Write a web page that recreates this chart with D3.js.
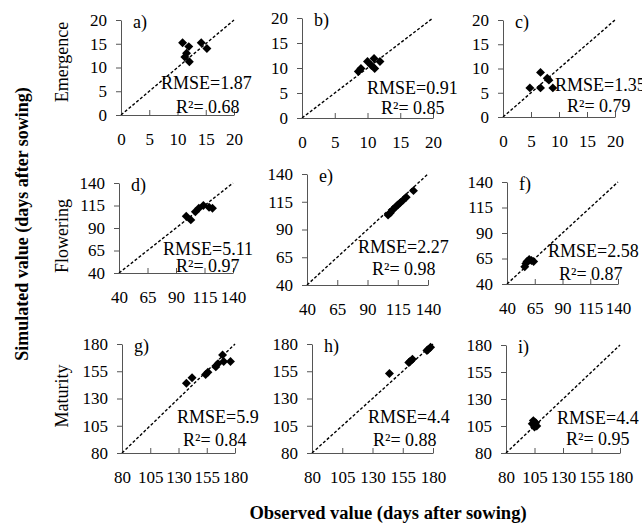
<!DOCTYPE html>
<html>
<head>
<meta charset="utf-8">
<script src="https://cdn.jsdelivr.net/npm/d3@7"></script>
<style>
  body { margin: 0; background: #fff; }
  text { font-family: "Liberation Serif", "Times New Roman", serif; }
</style>
</head>
<body>
<svg id="chart" width="642" height="525"></svg>
<script>
// panel letters, row names, tick labels per row
const panelIds = ["a)", "b)", "c)", "d)", "e)", "f)", "g)", "h)", "i)"];
const rowNames = ["Emergence", "Flowering", "Maturity"];
const rowTicks = [[0, 5, 10, 15, 20], [40, 65, 90, 115, 140], [80, 105, 130, 155, 180]];

// observed / simulated days after sowing, one list per panel
const observed = [
  [10.9, 12.0, 11.3, 12.1, 14.2, 15.2, 11.6],
  [8.6, 9.0, 10.0, 11.0, 11.9, 11.1, 10.6],
  [4.8, 6.7, 6.7, 7.9, 8.9, 8.2],
  [99, 103, 107, 110, 114, 119, 122],
  [107, 109, 111, 113, 115, 117, 119, 122, 128],
  [56, 57, 58, 60, 62, 64],
  [137, 142, 154, 156, 163, 165, 169, 170, 176],
  [144, 160, 161, 163, 175, 176, 178],
  [103, 104, 105, 106, 107]
];
const simulated = [
  [15.2, 14.4, 12.2, 11.2, 15.2, 14.0, 13.0],
  [9.3, 9.9, 11.3, 11.9, 11.3, 9.9, 10.5],
  [6.0, 9.2, 6.0, 8.0, 6.0, 7.6],
  [103, 99, 108, 112, 115, 113, 112],
  [103, 105, 108, 110, 112, 114, 116, 119, 125],
  [57, 60, 62, 64, 63, 62],
  [144, 149, 152, 154, 159, 162, 170, 164, 164],
  [153, 163, 164, 166, 174, 175, 177],
  [107, 110, 104, 108, 105]
];
const rmse = ["1.87", "0.91", "1.35", "5.11", "2.27", "2.58", "5.9", "4.4", "4.4"];
const r2 = ["0.68", "0.85", "0.79", "0.97", "0.98", "0.87", "0.84", "0.88", "0.95"];

// plot boxes [left, top, right, bottom] and stats text spots [rmseX, rmseY, r2X, r2Y]
const boxes = [
  [121, 20, 234, 115], [302, 18, 433, 118], [503, 20, 615, 117],
  [119, 183, 233, 273], [307, 174, 428, 285], [507, 182, 618, 284],
  [122, 344, 235, 453], [312, 344, 433, 453], [506, 345, 620, 453]
];
const statPos = [
  [161, 89, 176, 113], [367, 94, 381, 114], [555, 91, 567, 112],
  [163, 255, 176, 272], [358, 253, 372, 275], [548, 257, 559, 280],
  [177, 423, 183, 446], [368, 423, 373, 446], [557, 424, 566, 445]
];
const rowLabelY = [62, 236, 396];

const svg = d3.select("#chart");
const serif = '"Liberation Serif", "Times New Roman", serif';

panelIds.forEach(function(id, i) {
  let row = Math.floor(i / 3),
      ticks = rowTicks[row],
      [l, t, r, b] = boxes[i];

  let x = d3.scaleLinear().domain([ticks[0], ticks[4]]).range([l, r]),
      y = d3.scaleLinear().domain([ticks[0], ticks[4]]).range([b, t]);

  let g = svg.append("g").attr("class", "panel");

  let yAxis = g.append("g")
      .attr("transform", "translate(" + l + ",0)")
      .call(d3.axisLeft(y).tickValues(ticks).tickSize(5).tickSizeOuter(0).tickPadding(9));

  let xAxis = g.append("g")
      .attr("transform", "translate(0," + b + ")")
      .call(d3.axisBottom(x).tickValues(ticks).tickSize(-5).tickSizeOuter(0).tickPadding(18));

  [yAxis, xAxis].forEach(function(a) {
    a.attr("font-family", serif).attr("font-size", 17);
    a.selectAll("path, line").attr("stroke", "#555").attr("stroke-width", 1);
    a.selectAll("text").attr("fill", "#000");
  });

  // 1:1 line
  g.append("line")
      .attr("x1", x(ticks[0])).attr("y1", y(ticks[0]))
      .attr("x2", x(ticks[4])).attr("y2", y(ticks[4]))
      .attr("stroke", "#000")
      .attr("stroke-width", 1.4)
      .attr("stroke-dasharray", "3,2");

  g.selectAll(".pt")
    .data(observed[i].map(function(d, k) { return [d, simulated[i][k]]; }))
    .enter().append("path")
      .attr("class", "pt")
      .attr("d", d3.symbol(d3.symbolSquare, 40))
      .attr("transform", function(d) { return "translate(" + x(d[0]) + "," + y(d[1]) + ") rotate(45)"; })
      .attr("fill", "#000");

  g.append("text")
      .attr("x", l + 12).attr("y", t + 8)
      .attr("font-size", 18)
      .text(id);

  let s = statPos[i];
  g.append("text").attr("x", s[0]).attr("y", s[1]).attr("font-size", 18).text("RMSE=" + rmse[i]);
  g.append("text").attr("x", s[2]).attr("y", s[3]).attr("font-size", 18).text("R²= " + r2[i]);
});

rowNames.forEach(function(name, k) {
  svg.append("text")
      .attr("transform", "translate(68," + rowLabelY[k] + ") rotate(-90)")
      .attr("text-anchor", "middle")
      .attr("font-size", 18)
      .text(name);
});

svg.append("text")
    .attr("transform", "translate(28,224) rotate(-90)")
    .attr("text-anchor", "middle")
    .attr("font-size", 18)
    .attr("font-weight", "bold")
    .text("Simulated value (days after sowing)");

svg.append("text")
    .attr("x", 388).attr("y", 519)
    .attr("text-anchor", "middle")
    .attr("font-size", 18.5)
    .attr("font-weight", "bold")
    .text("Observed value (days after sowing)");
</script>
</body>
</html>
